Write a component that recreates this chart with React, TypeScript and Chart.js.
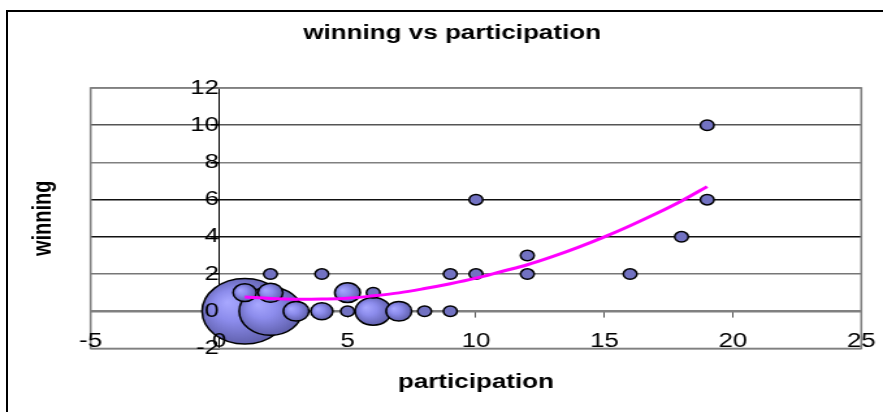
import React, { useEffect, useRef } from "react";
import { Chart, registerables } from "chart.js";

Chart.register(...registerables);

// ---- data ----
const chartTitle = "winning vs participation";
const xAxisTitle = "participation";
const yAxisTitle = "winning";

// bubbles (drawn largest first, as in the picture)
const participation = [1, 2, 6, 3, 7, 5, 1, 2, 4, 2, 4, 9, 10, 12, 16, 6, 5, 8, 9, 12, 18, 10, 19, 19];
const winning = [0, 0, 0, 0, 0, 1, 1, 1, 0, 2, 2, 2, 2, 2, 2, 1, 0, 0, 0, 3, 4, 6, 6, 10];
const bubbleSize = [39, 21, 7, 3.5, 3.5, 3.5, 2.9, 3.3, 2.6, 1, 1, 1, 1, 1, 1, 1, 1, 1, 1, 1, 1, 1, 1, 1];

// polynomial trend line
const trendX = [1, 2, 3, 4, 5, 6, 7, 8, 9, 10, 11, 12, 13, 14, 15, 16, 17, 18, 19];
const trendY = [0.77, 0.69, 0.65, 0.66, 0.7, 0.83, 0.99, 1.22, 1.48, 1.78, 2.14, 2.5, 2.95, 3.45, 4.0, 4.6, 5.24, 5.93, 6.7];

const xMin = -5, xMax = 25, xStep = 5;
const yMin = -2, yMax = 12, yStep = 2;

// ---- style ----
const PAGE_W = 883;
const PAGE_H = 412;
const SX = 1.3; // the reference is stretched horizontally
const CW = Math.round(PAGE_W / SX);
const FONT = "'Liberation Sans', Arial, Helvetica, sans-serif";
const SMALL_FILL = "#7272C2";
const R_PER_SQRT = 5.25;

const gridColors: Record<string, string> = {
  "12": "#808080",
  "10": "#555555",
  "8": "#808080",
  "6": "#111111",
  "4": "#111111",
  "2": "#777777",
  "0": "#808080",
  "-2": "#808080",
};

function bubbleFill(c: any) {
  if (c.type !== "data") return SMALL_FILL;
  const size = bubbleSize[c.dataIndex];
  if (size <= 1) return SMALL_FILL;
  const chart = c.chart;
  const xs = chart.scales.x;
  const ys = chart.scales.y;
  if (!xs || !ys || !c.raw) return SMALL_FILL;
  const cx = xs.getPixelForValue(c.raw.x);
  const cy = ys.getPixelForValue(c.raw.y);
  const r = c.raw.r;
  if (!isFinite(cx) || !isFinite(cy)) return SMALL_FILL;
  const g = chart.ctx.createRadialGradient(cx - 0.42 * r, cy - 0.28 * r, 0, cx - 0.08 * r, cy - 0.05 * r, r * 1.05);
  g.addColorStop(0, "#A8A8FF");
  g.addColorStop(0.45, "#8C8CEC");
  g.addColorStop(1, "#6161AE");
  return g;
}

const plotFrame = {
  id: "plotFrame",
  beforeDatasetsDraw(chart: any) {
    const { ctx, chartArea: a } = chart;
    ctx.save();
    ctx.strokeStyle = "#808080";
    ctx.lineWidth = 1.6;
    ctx.strokeRect(a.left, a.top, a.right - a.left, a.bottom - a.top);
    ctx.restore();
  },
};

const texts = {
  id: "excelTexts",
  afterDraw(chart: any) {
    const { ctx, chartArea: a } = chart;
    ctx.save();
    ctx.fillStyle = "#000";
    ctx.font = `bold 20px ${FONT}`;
    ctx.textAlign = "center";
    ctx.textBaseline = "alphabetic";
    ctx.fillText(chartTitle, 452 / SX, 39);
    ctx.fillText(xAxisTitle, (a.left + a.right) / 2, 388);
    ctx.translate(44 / SX, (a.top + a.bottom) / 2);
    ctx.rotate(-Math.PI / 2);
    ctx.textBaseline = "middle";
    ctx.fillText(yAxisTitle, 0, 0);
    ctx.restore();
  },
};

function noOverhang(scale: any) {
  scale.paddingLeft = 0;
  scale.paddingRight = 0;
  scale.paddingTop = 0;
  scale.paddingBottom = 0;
}

export default function App() {
  const ref = useRef<HTMLCanvasElement>(null);

  useEffect(() => {
    const canvas = ref.current;
    if (!canvas) return;
    const bubbles = participation.map((x, i) => ({
      x,
      y: winning[i],
      r: R_PER_SQRT * Math.sqrt(bubbleSize[i]),
    }));
    const trend = trendX.map((x, i) => ({ x, y: trendY[i] }));

    const chart = new Chart(canvas, {
      type: "bubble",
      data: {
        datasets: [
          {
            type: "line",
            label: "trend",
            data: trend,
            borderColor: "#FF00FF",
            borderWidth: 3,
            pointRadius: 0,
            tension: 0.35,
            fill: false,
            order: 0,
          } as any,
          {
            type: "bubble",
            label: "winning",
            data: bubbles,
            backgroundColor: bubbleFill as any,
            borderColor: "#000000",
            borderWidth: 1.5,
            order: 1,
          } as any,
        ],
      },
      options: {
        responsive: false,
        devicePixelRatio: 1,
        animation: false,
        events: [],
        layout: {
          autoPadding: false,
          padding: { left: 90.6 / SX, right: CW - 861 / SX, top: 88, bottom: PAGE_H - 348.5 },
        },
        plugins: {
          legend: { display: false },
          tooltip: { enabled: false },
          title: { display: false },
        },
        scales: {
          x: {
            type: "linear",
            axis: "x",
            position: { y: 0 } as any,
            min: xMin,
            max: xMax,
            afterFit: noOverhang,
            grid: {
              drawOnChartArea: false,
              drawTicks: true,
              tickLength: 6,
              tickColor: "#555555",
              lineWidth: 1,
            },
            border: { display: true, color: "#808080", width: 1.6 },
            ticks: {
              stepSize: xStep,
              autoSkip: false,
              maxRotation: 0,
              padding: 12,
              color: "#000",
              font: { family: FONT, size: 20 },
              z: 1,
            },
          } as any,
          y: {
            type: "linear",
            axis: "y",
            position: { x: 0 } as any,
            min: yMin,
            max: yMax,
            afterFit: noOverhang,
            grid: {
              drawOnChartArea: true,
              drawTicks: true,
              tickLength: 6,
              color: (c: any) => gridColors[String(c.tick && c.tick.value)] || "#808080",
              tickColor: "#000",
              lineWidth: 1.5,
            },
            border: { display: true, color: "#000", width: 1 },
            ticks: {
              stepSize: yStep,
              autoSkip: false,
              padding: 10,
              color: "#000",
              font: { family: FONT, size: 20 },
              z: 1,
            },
          } as any,
        },
      },
      plugins: [plotFrame, texts],
    });
    return () => chart.destroy();
  }, []);

  return (
    <div
      style={{
        position: "fixed",
        left: 0,
        top: 0,
        width: PAGE_W,
        height: PAGE_H,
        overflow: "hidden",
        background: "#fff",
      }}
    >
      <canvas
        ref={ref}
        width={CW}
        height={PAGE_H}
        style={{ width: `${PAGE_W}px`, height: `${PAGE_H}px`, display: "block" }}
      />
      <div
        style={{
          position: "absolute",
          left: 6,
          top: 10,
          width: 1000,
          height: 1000,
          borderLeft: "2px solid #000",
          borderTop: "2px solid #000",
          pointerEvents: "none",
        }}
      />
    </div>
  );
}
